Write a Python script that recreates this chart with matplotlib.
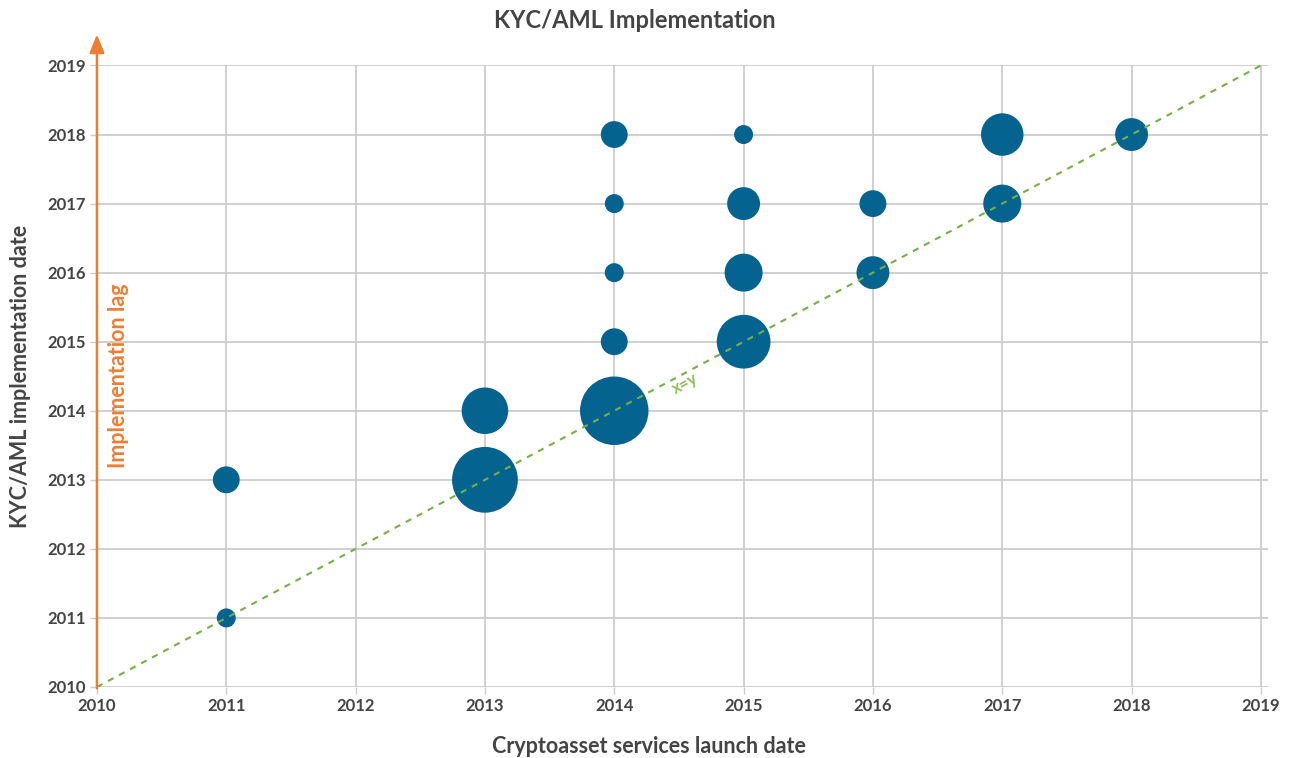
import numpy as np
import matplotlib.pyplot as plt

plt.rcParams['font.family'] = ['Lato', 'DejaVu Sans']

# launch year, implementation year, number of services
launch = [2011, 2011, 2013, 2013, 2014, 2014, 2014, 2014, 2014,
          2015, 2015, 2015, 2015, 2016, 2016, 2017, 2017, 2018]
implem = [2011, 2013, 2013, 2014, 2014, 2015, 2016, 2017, 2018,
          2015, 2016, 2017, 2018, 2016, 2017, 2017, 2018, 2018]
count = [1, 2, 12, 6, 13, 2, 1, 1, 2,
         8, 4, 3, 1, 3, 2, 4, 5, 3]
years = list(range(2010, 2020))

blue = '#04638f'
orange = '#ed7d31'
green = '#74b043'
grey_txt = '#444444'

fig = plt.figure(figsize=(12.91, 7.58), dpi=100)
ax = fig.add_axes([0.0751, 0.0937, 0.9071, 0.8199])

ax.set_xlim(2010, 2019.055)
ax.set_ylim(2010, 2019)
ax.set_xticks(years)
ax.set_yticks(years)
ax.set_xticklabels([str(y) for y in years], fontsize=12, fontweight='bold', color=grey_txt)
ax.set_yticklabels([str(y) for y in years], fontsize=12, fontweight='bold', color=grey_txt)
ax.tick_params(axis='both', length=5, width=1, color='#cccccc', pad=3)
ax.grid(True, color='#cccccc', linewidth=1.3, zorder=0)
ax.set_axisbelow(True)
for s in ax.spines.values():
    s.set_visible(False)

ax.scatter(launch, implem, s=np.array(count) * 187, color=blue,
           edgecolors='none', zorder=3, clip_on=False)

# x = y reference
ax.plot([2010, 2019], [2010, 2019], color=green, linestyle=(0, (3, 3)),
        linewidth=1.5, zorder=4)
ax.text(2014.55, 2014.39, 'x=y', color='#8cbf5e', fontsize=12, fontweight='bold',
        rotation=28, rotation_mode='anchor', ha='center', va='center', zorder=5)

# implementation lag arrow
ax.annotate('', xy=(2010, 2019.45), xytext=(2010, 2009.98),
            arrowprops=dict(arrowstyle='-|>,head_length=1.1,head_width=0.45',
                            color=orange, lw=1.8, shrinkA=0, shrinkB=0),
            annotation_clip=False, zorder=6)
ax.text(2010.17, 2014.5, 'Implementation lag', color=orange, fontsize=15.5,
        fontweight='bold', rotation=90, ha='center', va='center')

ax.set_xlabel('Cryptoasset services launch date', fontsize=15.5, fontweight='bold',
              color=grey_txt, va='center')
ax.xaxis.set_label_coords(0.471, -0.095)
ax.set_ylabel('KYC/AML implementation date', fontsize=15.5, fontweight='bold',
              color=grey_txt, va='center')
ax.yaxis.set_label_coords(-0.0655, 0.5)
fig.text(0.492, 0.973, 'KYC/AML Implementation', fontsize=17, fontweight='bold',
         color=grey_txt, ha='center', va='center')

fig.savefig('out.png', dpi=100)
